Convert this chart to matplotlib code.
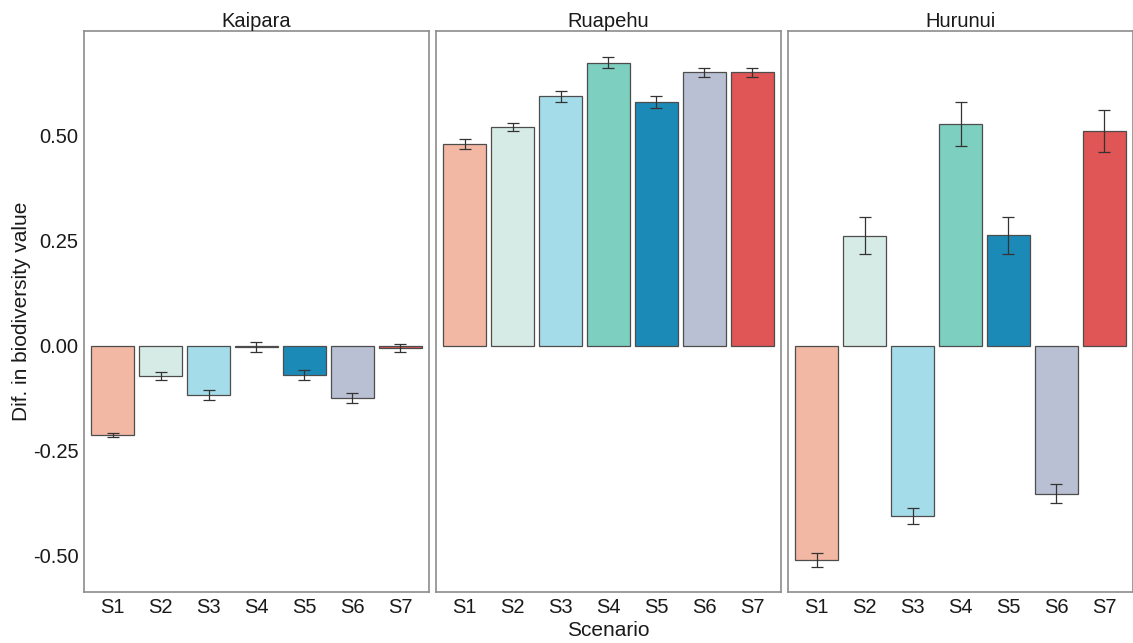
import matplotlib.pyplot as plt

plt.rcParams['font.family'] = ['Liberation Sans', 'DejaVu Sans']

scenarios = ["S1", "S2", "S3", "S4", "S5", "S6", "S7"]
regions = ["Kaipara", "Ruapehu", "Hurunui"]
colors = ["#F2B8A4", "#D6EBE6", "#A4DDE9", "#7DCFC0", "#1C8AB7", "#BAC0D3", "#E05555"]

kaipara_mean = [-0.212, -0.071, -0.117, -0.003, -0.069, -0.124, -0.005]
kaipara_err = [0.005, 0.010, 0.012, 0.012, 0.012, 0.011, 0.010]
ruapehu_mean = [0.481, 0.521, 0.595, 0.674, 0.581, 0.652, 0.652]
ruapehu_err = [0.011, 0.010, 0.013, 0.013, 0.014, 0.011, 0.011]
hurunui_mean = [-0.510, 0.262, -0.405, 0.529, 0.264, -0.352, 0.512]
hurunui_err = [0.017, 0.044, 0.019, 0.053, 0.044, 0.023, 0.050]

means = [kaipara_mean, ruapehu_mean, hurunui_mean]
errs = [kaipara_err, ruapehu_err, hurunui_err]

fig = plt.figure(figsize=(11.33, 6.43), dpi=100)
lefts = [0.0741, 0.3848, 0.6955]
width = 0.3045
bottom, height = 0.0793, 0.8725

x = list(range(1, 8))
for i, region in enumerate(regions):
    ax = fig.add_axes([lefts[i], bottom, width, height])
    ax.bar(x, means[i], width=0.9, color=colors, edgecolor="#4d4d4d", linewidth=0.9, zorder=2)
    ax.errorbar(x, means[i], yerr=errs[i], fmt="none", ecolor="#333333",
                elinewidth=0.9, capsize=4.5, capthick=0.9, zorder=3)
    ax.set_xlim(0.4, 7.6)
    ax.set_ylim(-0.586, 0.75)
    ax.set_xticks(x)
    ax.set_xticklabels(scenarios)
    ax.set_yticks([-0.5, -0.25, 0.0, 0.25, 0.5])
    ax.tick_params(length=0, labelsize=14.5, colors="#1a1a1a")
    ax.tick_params(axis="y", pad=4)
    ax.tick_params(axis="x", pad=4)
    for s in ax.spines.values():
        s.set_color("#8c8c8c")
        s.set_linewidth(1.2)
    ax.set_title(region, fontsize=14.5, color="#1a1a1a", pad=3)
    if i == 0:
        ax.set_yticklabels(["-0.50", "-0.25", "0.00", "0.25", "0.50"])
        ax.set_ylabel("Dif. in biodiversity value", fontsize=15, color="#1a1a1a", labelpad=1.5)
    else:
        ax.set_yticklabels([])
    if i == 1:
        ax.set_xlabel("Scenario", fontsize=15, color="#1a1a1a", labelpad=3)

fig.savefig("out.png", dpi=100)
